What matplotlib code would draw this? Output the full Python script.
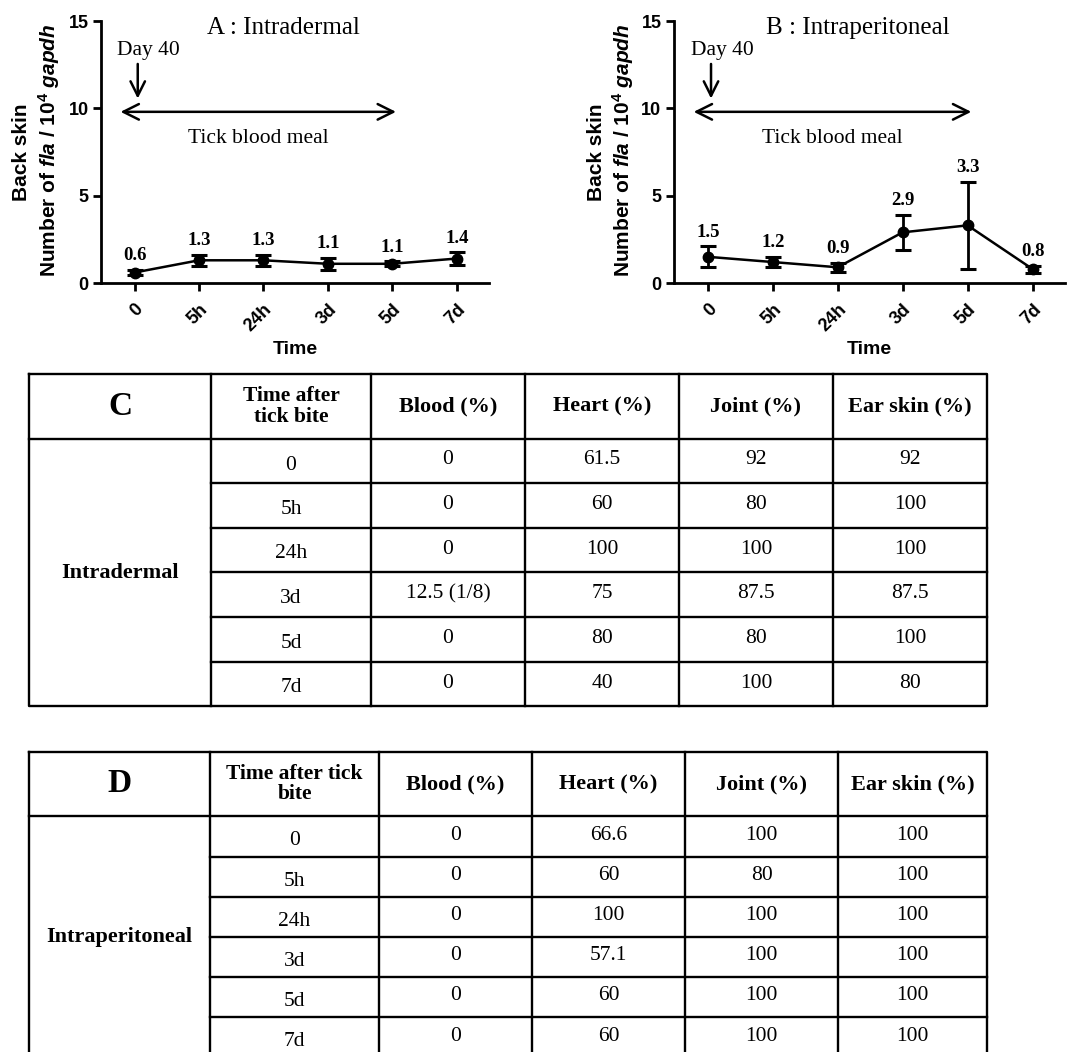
import numpy as np
import matplotlib
matplotlib.use('Agg')
import matplotlib.pyplot as plt

plt.rcParams['mathtext.fontset'] = 'custom'
plt.rcParams['mathtext.rm'] = 'Liberation Sans:bold'
plt.rcParams['mathtext.it'] = 'Liberation Sans:italic:bold'
plt.rcParams['mathtext.bf'] = 'Liberation Sans:bold'

# data
times = ['0', '5h', '24h', '3d', '5d', '7d']
intradermal_mean = [0.6, 1.3, 1.3, 1.1, 1.1, 1.4]
intradermal_err = [0.15, 0.3, 0.3, 0.35, 0.15, 0.35]
intraperitoneal_mean = [1.5, 1.2, 0.9, 2.9, 3.3, 0.8]
intraperitoneal_err = [0.6, 0.3, 0.25, 1.0, 2.5, 0.2]

table_cols = ['Blood (%)', 'Heart (%)', 'Joint (%)', 'Ear skin (%)']
blood_C = ['0', '0', '0', '12.5 (1/8)', '0', '0']
heart_C = ['61.5', '60', '100', '75', '80', '40']
joint_C = ['92', '80', '100', '87.5', '80', '100']
ear_C = ['92', '100', '100', '87.5', '100', '80']
blood_D = ['0', '0', '0', '0', '0', '0']
heart_D = ['66.6', '60', '100', '57.1', '60', '60']
joint_D = ['100', '80', '100', '100', '100', '100']
ear_D = ['100', '100', '100', '100', '100', '100']

W, H = 1070, 1052
fig = plt.figure(figsize=(W / 100, H / 100), dpi=100)

SERIF = 'Liberation Serif'
SANS = 'Liberation Sans'


def px_axes(x0, x1, ytop, ybot):
    return fig.add_axes([x0 / W, 1 - ybot / H, (x1 - x0) / W, (ybot - ytop) / H])


def draw_panel(ax, means, errs, title, ylab_x):
    x = np.arange(len(times))
    ax.errorbar(x, means, yerr=errs, color='black', lw=1.8, marker='o', ms=7.5,
                capsize=6, capthick=2.2, elinewidth=2, clip_on=False, zorder=3)
    for xi, m, e in zip(x, means, errs):
        ax.annotate('%.1f' % m, (xi, m + e), xytext=(0, 4), textcoords='offset points',
                    ha='center', va='bottom', fontsize=13.5, fontweight='bold', family=SERIF)
    ax.set_xlim(-0.52, 5.5)
    ax.set_ylim(0, 15)
    ax.set_yticks([0, 5, 10, 15])
    ax.set_xticks(x)
    ax.set_xticklabels(times, rotation=45, ha='right', rotation_mode='anchor')
    for lab in ax.get_xticklabels() + ax.get_yticklabels():
        lab.set_fontweight('bold')
        lab.set_family(SANS)
        lab.set_fontsize(13)
    ax.tick_params(width=2, length=6, pad=3)
    ax.tick_params(axis='x', pad=7)
    for s in ['top', 'right']:
        ax.spines[s].set_visible(False)
    for s in ['left', 'bottom']:
        ax.spines[s].set_linewidth(2)
    ax.set_xlabel('Time', fontsize=14, fontweight='bold', family=SANS, labelpad=4)
    ax.text(0.47, 0.975, title, transform=ax.transAxes, ha='center', va='center',
            fontsize=18, family=SERIF)
    # tick blood meal annotations
    ax.annotate('', xy=(4.1, 9.8), xytext=(-0.26, 9.8),
                arrowprops=dict(arrowstyle='<->', lw=1.8, mutation_scale=28))
    ax.annotate('', xy=(0.05, 10.4), xytext=(0.05, 12.7),
                arrowprops=dict(arrowstyle='->', lw=1.8, mutation_scale=26))
    ax.text(0.22, 13.3, 'Day 40', ha='center', va='center', fontsize=15.5, family=SERIF)
    ax.text(1.92, 8.3, 'Tick blood meal', ha='center', va='center', fontsize=15.5, family=SERIF)
    # y label (two lines)
    fig.text(ylab_x / W, 1 - 152 / H, 'Back skin', rotation=90, ha='center', va='center',
             fontsize=15, fontweight='bold', family=SANS)
    fig.text((ylab_x + 27) / W, 1 - 150 / H,
             r'Number of $\it{fla}$ / 10$^{4}$ $\it{gapdh}$', rotation=90,
             ha='center', va='center', fontsize=15, fontweight='bold', family=SANS)


axA = px_axes(101, 489, 21, 283)
draw_panel(axA, intradermal_mean, intradermal_err, 'A : Intradermal', 22)
axB = px_axes(674, 1065, 21, 283)
draw_panel(axB, intraperitoneal_mean, intraperitoneal_err, 'B : Intraperitoneal', 596)

# tables
tax = fig.add_axes([0, 0, 1, 1])
tax.set_xlim(0, W)
tax.set_ylim(H, 0)
tax.axis('off')


def draw_table(letter, group, blood, heart, joint, ear, col_edges, row_edges, time_head):
    top, bot = row_edges[0], row_edges[-1]
    left, right = col_edges[0], col_edges[-1]
    lw = 1.7
    # outer frame
    tax.plot([left, right, right, left, left], [top, top, bot, bot, top], color='black', lw=lw,
             clip_on=False, solid_capstyle='projecting')
    for xe in col_edges[1:-1]:
        tax.plot([xe, xe], [top, bot], color='black', lw=lw, clip_on=False)
    tax.plot([left, right], [row_edges[1], row_edges[1]], color='black', lw=lw)
    for ye in row_edges[2:-1]:
        tax.plot([col_edges[1], right], [ye, ye], color='black', lw=lw)
    hy = (row_edges[0] + row_edges[1]) / 2
    tax.text((col_edges[0] + col_edges[1]) / 2, hy, letter, ha='center', va='center',
             fontsize=24, fontweight='bold', family=SERIF)
    tax.text((col_edges[1] + col_edges[2]) / 2, hy, time_head, ha='center', va='center',
             fontsize=15.5, fontweight='bold', family=SERIF, linespacing=1.05)
    for j, name in enumerate(table_cols):
        tax.text((col_edges[j + 2] + col_edges[j + 3]) / 2, hy, name, ha='center',
                 va='center', fontsize=16, fontweight='bold', family=SERIF)
    tax.text((col_edges[0] + col_edges[1]) / 2, (row_edges[1] + row_edges[-1]) / 2, group,
             ha='center', va='center', fontsize=16, fontweight='bold', family=SERIF)
    cols = [times, blood, heart, joint, ear]
    for i in range(len(times)):
        cy = (row_edges[i + 1] + row_edges[i + 2]) / 2
        for j, vals in enumerate(cols):
            dy = 4 if j == 0 else -1
            tax.text((col_edges[j + 1] + col_edges[j + 2]) / 2, cy + dy, vals[i], ha='center',
                     va='center', fontsize=15.5, family=SERIF)


rows_C = [374, 439, 483, 528, 572, 617, 662, 706]
cols_C = [29, 211, 371, 525, 679, 833, 987]
draw_table('C', 'Intradermal', blood_C, heart_C, joint_C, ear_C, cols_C, rows_C,
           'Time after\ntick bite')

rows_D = [752, 816, 857, 897, 937, 977, 1017, 1058]
cols_D = [29, 210, 379, 532, 685, 838, 987]
draw_table('D', 'Intraperitoneal', blood_D, heart_D, joint_D, ear_D, cols_D, rows_D,
           'Time after tick\nbite')

fig.savefig('out.png', dpi=100)
